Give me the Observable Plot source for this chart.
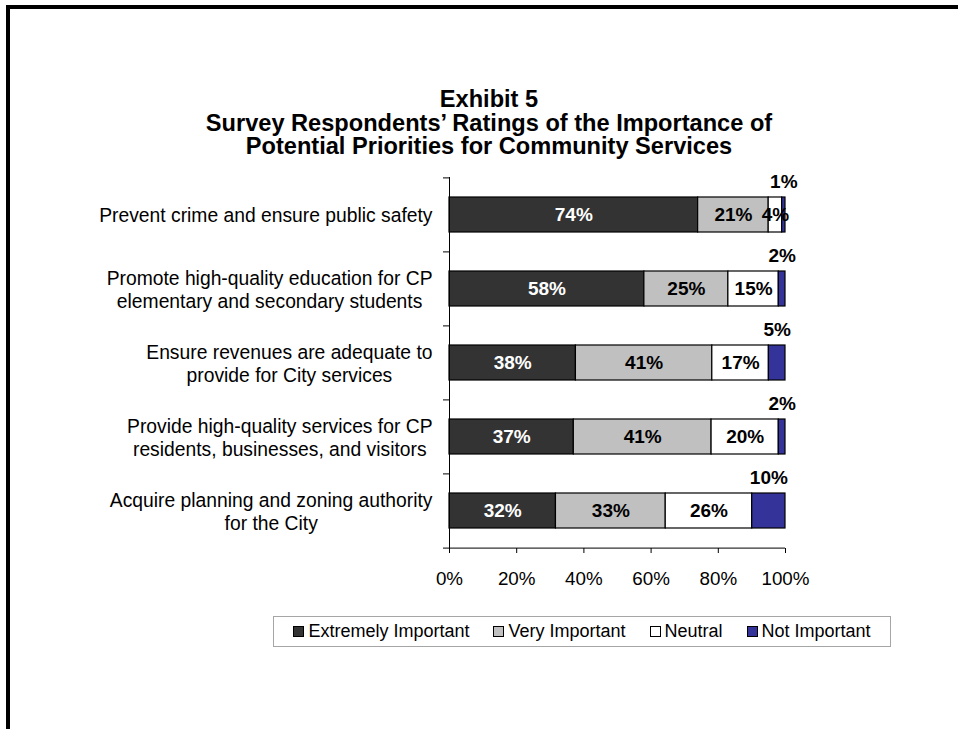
<!DOCTYPE html>
<html>
<head>
<meta charset="utf-8">
<script src="https://cdn.jsdelivr.net/npm/d3@7"></script>
<script src="https://cdn.jsdelivr.net/npm/@observablehq/plot@0.6"></script>
<style>
  body { margin: 0; background: #fff; }
  #wrap { position: relative; width: 958px; height: 729px; background: #fff; overflow: hidden;
          font-family: "Liberation Sans", Arial, Helvetica, sans-serif; color: #000; }
  #border { position: absolute; left: 6px; top: 5px; right: -10px; bottom: -10px;
            border-top: 4px solid #000; border-left: 4px solid #000; }
  #title { position: absolute; left: 20px; width: 938px; top: 88px; text-align: center;
           font-weight: bold; font-size: 23.6px; line-height: 23.5px; }
  #chart { position: absolute; left: 0; top: 0; }
  #legend { position: absolute; left: 273px; top: 616px; width: 616px; height: 29px;
            border: 1.5px solid #a6a6a6; display: flex; align-items: center; justify-content: center;
            font-size: 18px; }
  .item { display: flex; align-items: center; margin: 0 12px; }
  .sw { width: 9px; height: 9px; border: 1px solid #000; margin-right: 4px; }
</style>
</head>
<body>
<div id="wrap">
  <div id="border"></div>
  <div id="title">Exhibit 5<br>Survey Respondents’ Ratings of the Importance of<br>Potential Priorities for Community Services</div>
  <div id="chart"></div>
  <div id="legend"></div>
</div>
<script>
const categories = [
  "Prevent crime and ensure public safety",
  "Promote high-quality education for CP\nelementary and secondary students",
  "Ensure revenues are adequate to\nprovide for City services",
  "Provide high-quality services for CP\nresidents, businesses, and visitors",
  "Acquire planning and zoning authority\nfor the City"
];
const levels = ["Extremely Important", "Very Important", "Neutral", "Not Important"];
const extremelyImportant = [74, 58, 38, 37, 32];
const veryImportant = [21, 25, 41, 41, 33];
const neutral = [4, 15, 17, 20, 26];
const notImportant = [1, 2, 5, 2, 10];
const colors = ["#333333", "#c0c0c0", "#ffffff", "#333399"];
const xTicks = [0, 0.2, 0.4, 0.6, 0.8, 1];

const series = [extremelyImportant, veryImportant, neutral, notImportant];
const data = [];
categories.forEach((c, i) => {
  levels.forEach((l, j) => data.push({category: c, level: l, value: series[j][i]}));
});

const W = 958, H = 729, mL = 449, mR = 173, mT = 177, mB = 181;
const step = (H - mT - mB) / categories.length;
const stackOpts = {x: "value", y: "category", z: "level", order: levels, offset: "normalize"};
const labelStyle = {fontWeight: "bold", fontSize: 19};

const plot = Plot.plot({
  width: W, height: H,
  marginLeft: mL, marginRight: mR, marginTop: mT, marginBottom: mB,
  style: {fontFamily: "'Liberation Sans', Arial, sans-serif", fontSize: "18.8px", color: "#000", background: "transparent", overflow: "visible"},
  x: {domain: [0, 1], ticks: xTicks, tickFormat: d => Math.round(d * 100) + "%", tickSize: 5, tickPadding: 18, label: null},
  y: {domain: categories, paddingInner: 0.53, paddingOuter: 0.265, axis: null},
  color: {domain: levels, range: colors},
  marks: [
    Plot.barX(data, Plot.stackX({...stackOpts, fill: "level", stroke: "#000", strokeWidth: 1.2})),
    Plot.text(data, Plot.stackX({...stackOpts, ...labelStyle, fill: "white",
      text: d => d.level === levels[0] ? d.value + "%" : ""})),
    Plot.text(data, Plot.stackX({...stackOpts, ...labelStyle, fill: "black",
      text: d => (d.level === levels[1] || d.level === levels[2]) ? d.value + "%" : ""})),
    Plot.text(data, Plot.stackX({...stackOpts, ...labelStyle, fill: "black", dy: -33,
      text: d => d.level === levels[3] ? d.value + "%" : ""})),
    Plot.ruleX([0], {stroke: "#000"}),
    Plot.ruleY(categories, {y: d => d, dy: -step / 2, x1: 0, x2: 0, insetLeft: -6, stroke: "#000"}),
    Plot.ruleY([categories[categories.length - 1]], {y: d => d, dy: step / 2, x1: 0, x2: 1, insetLeft: -6, stroke: "#000"}),
    Plot.text(categories, {y: d => d, text: d => d, frameAnchor: "left", dx: -17, textAnchor: "end",
      lineHeight: 1.2, fontSize: 19.3, fill: "black"})
  ]
});
document.getElementById("chart").appendChild(plot);

// center the lines of each multi-line category label within its right-aligned block
plot.querySelectorAll("text").forEach(t => {
  const spans = t.querySelectorAll("tspan");
  if (spans.length > 1) {
    let maxW = 0;
    spans.forEach(s => { maxW = Math.max(maxW, s.getComputedTextLength()); });
    t.setAttribute("text-anchor", "middle");
    spans.forEach(s => { s.setAttribute("x", -maxW / 2); s.setAttribute("text-anchor", "middle"); });
  }
});

const legend = document.getElementById("legend");
levels.forEach((l, i) => {
  const item = document.createElement("div");
  item.className = "item";
  const sw = document.createElement("div");
  sw.className = "sw";
  sw.style.background = colors[i];
  const lab = document.createElement("span");
  lab.textContent = l;
  item.appendChild(sw);
  item.appendChild(lab);
  legend.appendChild(item);
});
</script>
</body>
</html>
